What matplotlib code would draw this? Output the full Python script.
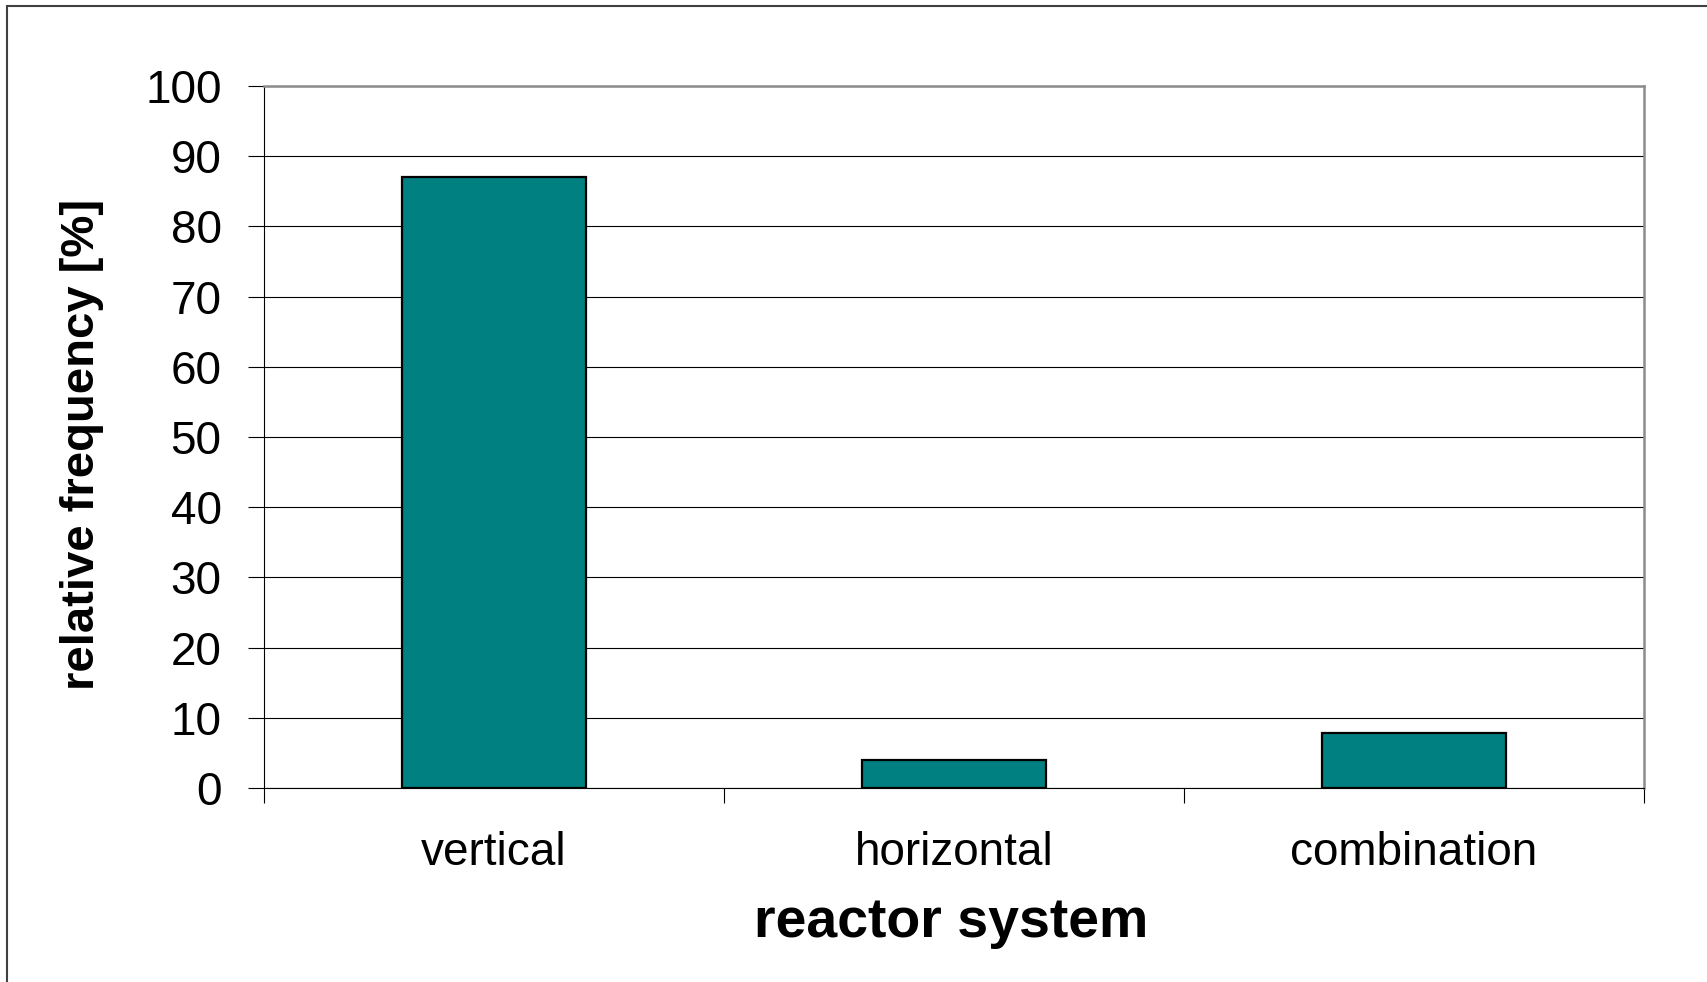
import numpy as np
from matplotlib import pyplot as plt
from matplotlib.patches import Rectangle

categories = ['vertical', 'horizontal', 'combination']
frequency = [87.0, 4.0, 7.8]
yticks = [0, 10, 20, 30, 40, 50, 60, 70, 80, 90, 100]

def main():
	plt.rcParams['font.family'] = ['Liberation Sans', 'DejaVu Sans']
	fig = plt.figure(figsize=(17.07, 9.82), dpi=100)
	W, H = 1707.0, 982.0

	# plot area placed in pixel terms
	left, right, top, bottom = 264, 1644, 86, 788
	ax = fig.add_axes([left / W, 1 - bottom / H, (right - left) / W, (bottom - top) / H])

	xpos = np.arange(len(categories))
	ax.bar(xpos, frequency, width=0.4, color='#008080', edgecolor='black', linewidth=1.6, zorder=3)

	ax.set_xlim(-0.5, len(categories) - 0.5)
	ax.set_ylim(0, 100)
	ax.set_yticks(yticks)
	ax.yaxis.grid(True, color='black', linewidth=0.8, zorder=0)
	ax.set_axisbelow(True)

	ax.tick_params(axis='y', direction='out', length=11.5, width=0.8, pad=19, labelsize=33)
	ax.set_xticks(xpos)
	ax.set_xticklabels(categories)
	ax.tick_params(axis='x', which='major', length=0, pad=31, labelsize=33)
	ax.set_xticks(np.arange(len(categories) + 1) - 0.5, minor=True)
	ax.tick_params(axis='x', which='minor', direction='out', length=11, width=0.8)

	for side in ['left', 'bottom']:
		ax.spines[side].set_color('black')
		ax.spines[side].set_linewidth(0.8)
	for side in ['top', 'right']:
		ax.spines[side].set_color('#8c8c8c')
		ax.spines[side].set_linewidth(1.8)

	fig.text(82 / W, 1 - 444 / H, 'relative frequency [%]', rotation=90, ha='center', va='center',
		fontsize=34, fontweight='bold')
	fig.text(951 / W, 1 - 923 / H, 'reactor system', ha='center', va='center',
		fontsize=40, fontweight='bold')

	# chart border, runs off the right and bottom edges
	fig.patches.append(Rectangle((6.5 / W, -0.2), 1.5, 1.2 - 5.5 / H, transform=fig.transFigure,
		fill=False, edgecolor='#404040', linewidth=1.5))

	fig.savefig('out.png', dpi=100)

if __name__ == "__main__":
	main()
